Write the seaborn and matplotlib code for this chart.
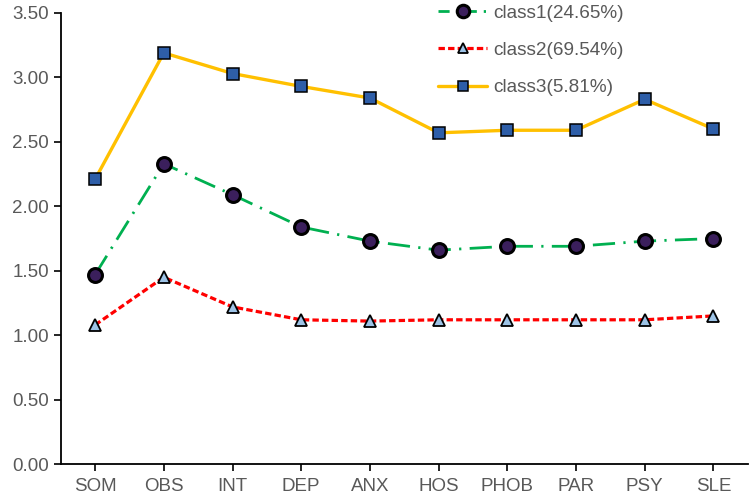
import pandas as pd
import matplotlib
matplotlib.use('Agg')
import matplotlib.pyplot as plt
import seaborn as sns
from matplotlib.lines import Line2D

factors = ['SOM', 'OBS', 'INT', 'DEP', 'ANX', 'HOS', 'PHOB', 'PAR', 'PSY', 'SLE']
class1 = [1.47, 2.33, 2.09, 1.84, 1.73, 1.66, 1.69, 1.69, 1.73, 1.75]
class2 = [1.08, 1.45, 1.22, 1.12, 1.11, 1.12, 1.12, 1.12, 1.12, 1.15]
class3 = [2.21, 3.19, 3.03, 2.93, 2.84, 2.57, 2.59, 2.59, 2.83, 2.60]
labels = ['class1(24.65%)', 'class2(69.54%)', 'class3(5.81%)']

sns.set_style('white')
plt.rcParams['font.family'] = ['Liberation Sans', 'DejaVu Sans']

fig = plt.figure(figsize=(7.5, 4.97), dpi=100)
ax = fig.add_axes([0.081, 0.066, 0.916, 0.908])

styles = [
    dict(color='#00B050', lw=2.0, dashes=(8, 3, 0.8, 3), marker='o', ms=10,
         mfc='#3B1F5C', mec='black', mew=2.2),
    dict(color='#FF0000', lw=2.3, dashes=(2, 1), marker='^', ms=8,
         mfc='#9DC3E6', mec='black', mew=1.3),
    dict(color='#FFC000', lw=2.4, dashes=None, marker='s', ms=8,
         mfc='#2E5EA8', mec='black', mew=1.1),
]

handles = []
for vals, lab, st in zip([class1, class2, class3], labels, styles):
    df = pd.DataFrame({'factor': factors, 'score': vals})
    sns.lineplot(data=df, x='factor', y='score', sort=False, ax=ax,
                 color=st['color'], linewidth=st['lw'], marker=st['marker'],
                 markersize=st['ms'], markerfacecolor=st['mfc'],
                 markeredgecolor=st['mec'], markeredgewidth=st['mew'])
    line = ax.lines[-1]
    if st['dashes'] is not None:
        line.set_dashes(st['dashes'])
    h = Line2D([], [], color=st['color'], lw=st['lw'], marker=st['marker'],
               markersize=st['ms'] * 0.9, markerfacecolor=st['mfc'],
               markeredgecolor=st['mec'], markeredgewidth=st['mew'])
    if st['dashes'] is not None:
        h.set_dashes((4, 2.5, 0.8, 2.5) if st['marker'] == 'o' else st['dashes'])
    handles.append(h)

ax.set_xlim(-0.5, 9.5)
ax.set_ylim(0, 3.5)
ax.set_yticks([0, 0.5, 1.0, 1.5, 2.0, 2.5, 3.0, 3.5])
ax.set_yticklabels([f'{v:.2f}' for v in ax.get_yticks()])
ax.set_xlabel('')
ax.set_ylabel('')
ax.grid(False)

for s in ['top', 'right']:
    ax.spines[s].set_visible(False)
for s in ['left', 'bottom']:
    ax.spines[s].set_color('black')
    ax.spines[s].set_linewidth(1.3)

ax.tick_params(axis='both', which='both', direction='out', length=5, width=1.2,
               color='black', labelcolor='#595959', labelsize=13.5,
               left=True, bottom=True)
ax.tick_params(axis='x', pad=5)

leg = ax.legend(handles, labels, loc='upper left', bbox_to_anchor=(0.549, 1.019),
                frameon=False, fontsize=13.7, handlelength=2.6, handletextpad=0.3,
                labelspacing=1.05, borderpad=0, borderaxespad=0)
for t in leg.get_texts():
    t.set_color('#595959')

fig.savefig('out.png', dpi=100)
